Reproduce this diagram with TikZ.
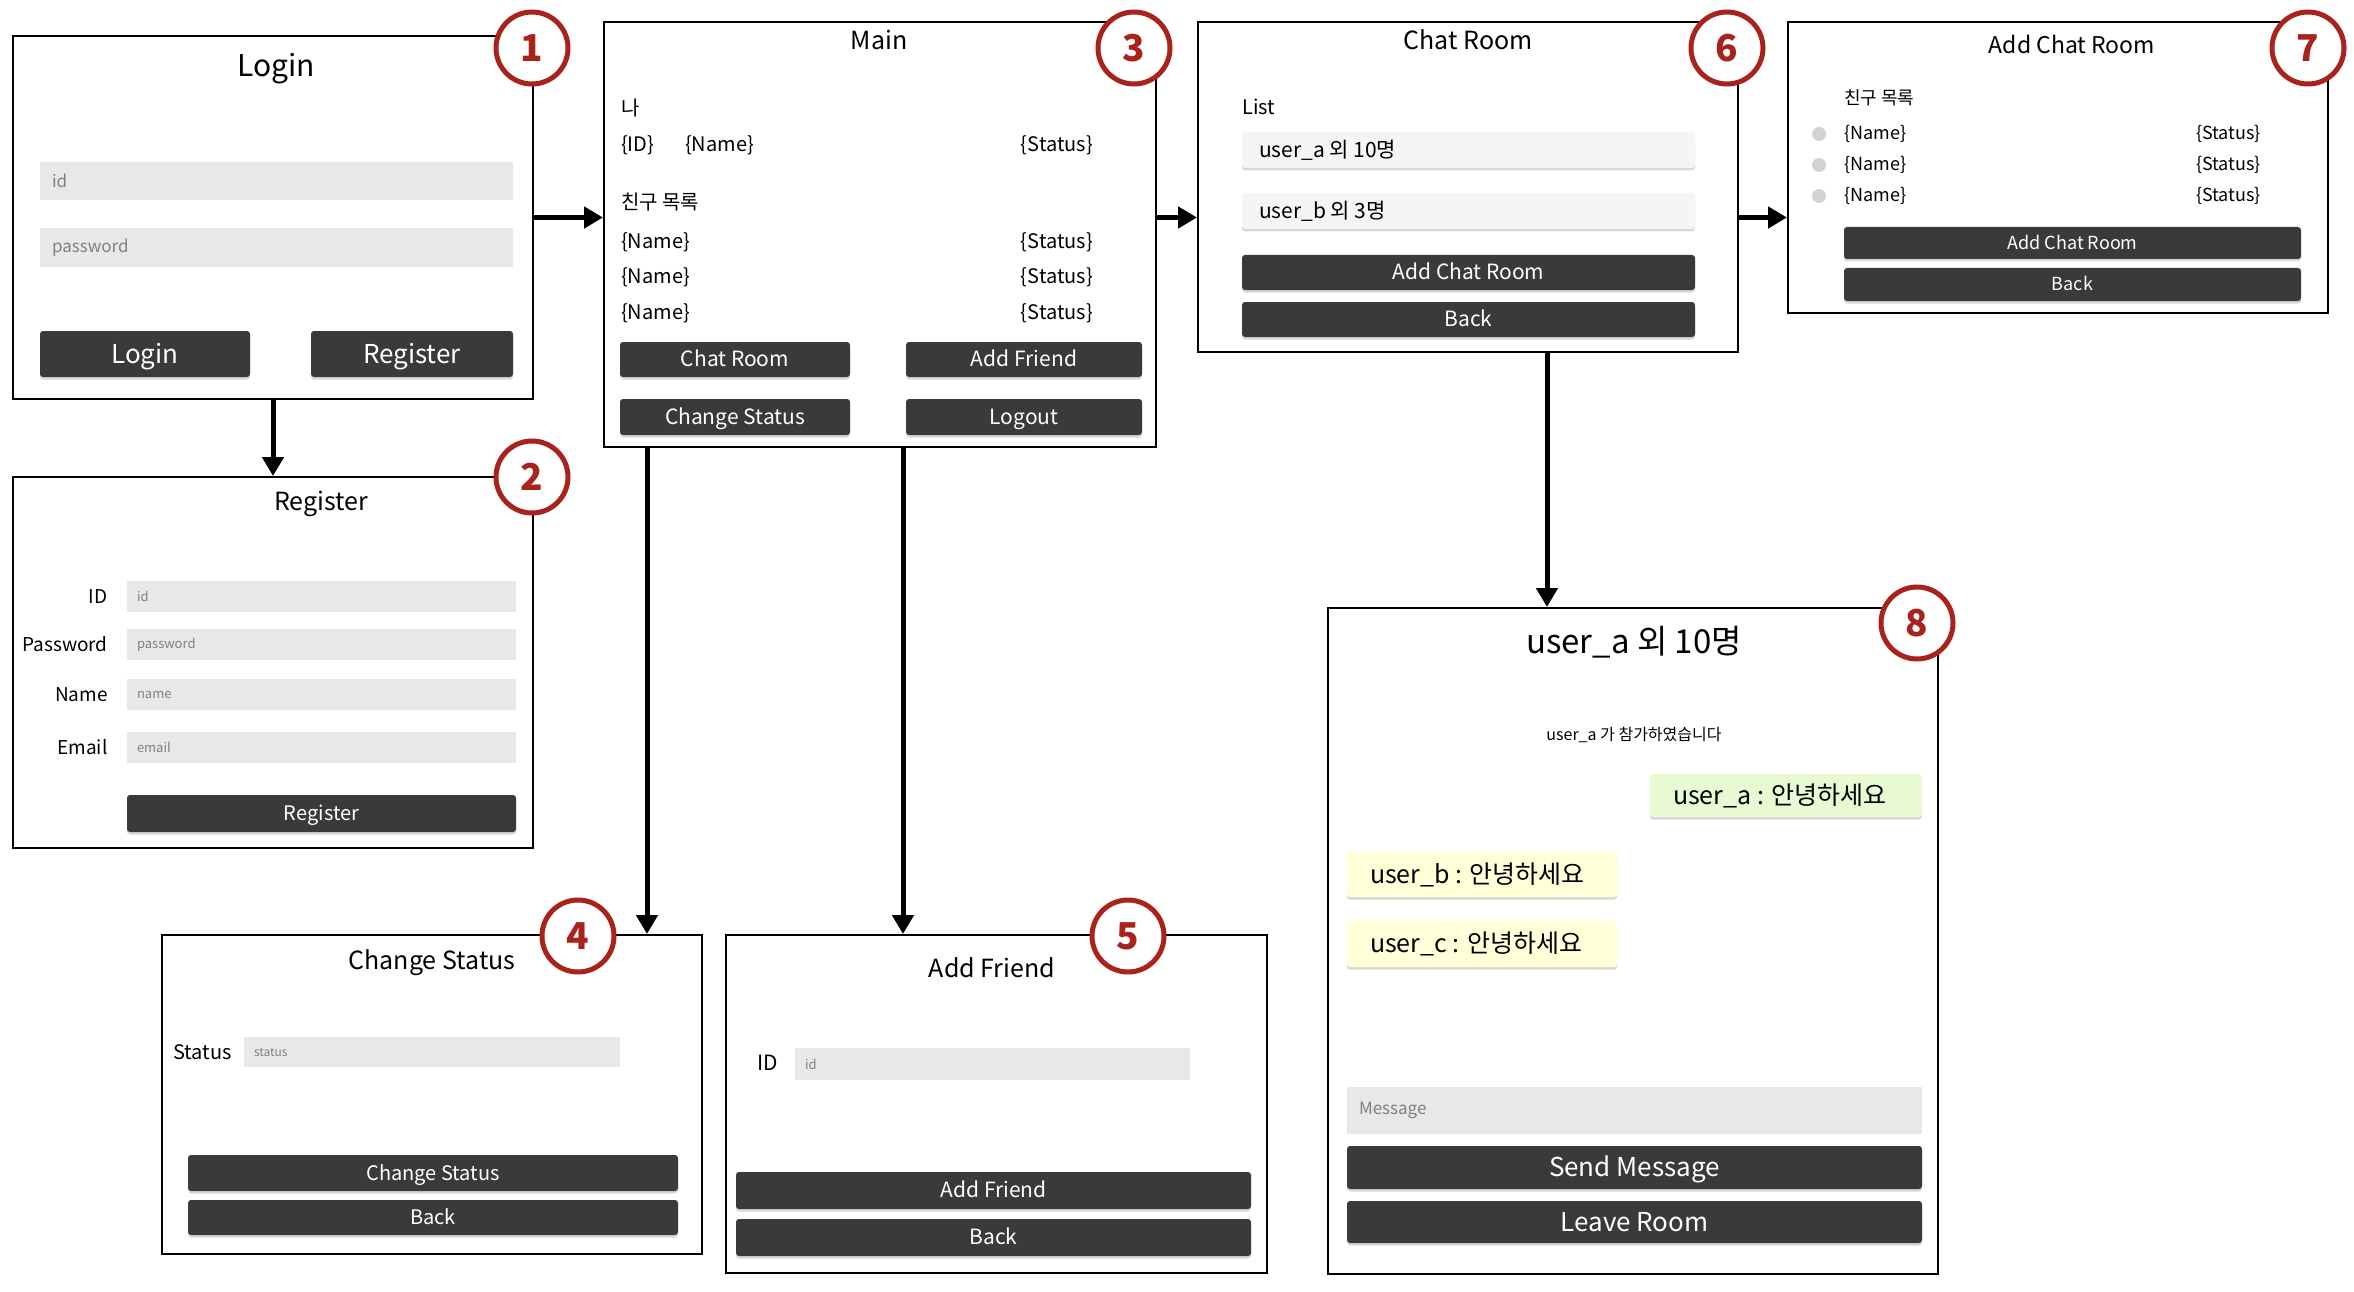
\documentclass[tikz,border=0pt]{standalone}
\usepackage{fontspec}
\setmainfont{Noto Sans CJK KR}
\usepackage{tikz}
\usetikzlibrary{arrows.meta,calc,fit,shadows}

\definecolor{btngray}{HTML}{3A3A3A}
\definecolor{fieldgray}{HTML}{E8E8E8}
\definecolor{itemgray}{HTML}{F5F5F5}
\definecolor{dotgray}{HTML}{D2D2D2}
\definecolor{hintgray}{HTML}{808080}
\definecolor{badgered}{HTML}{A8231B}
\definecolor{msggreen}{HTML}{E8FAD2}
\definecolor{msgyellow}{HTML}{FFFFD8}

\newcommand{\fsz}[1]{\fontsize{#1}{#1}\selectfont}

\begin{document}
\begin{tikzpicture}[x=1pt,y=-1pt,
	screen/.style={draw=black,line width=2pt,fill=white,inner sep=0pt},
	badge/.style={circle,draw=badgered,line width=5pt,fill=white,minimum size=72pt,inner sep=0pt,text=badgered,font=\fsz{37}\bfseries},
	title/.style={anchor=base,inner sep=0pt},
	txt/.style={inner sep=0pt},
	btxt/.style={txt,text=white,font=\fsz{#1},text height={0.7*#1pt},text depth=0pt},
	field/.style={fill=fieldgray,inner sep=0pt},
	hint/.style={anchor=west,inner sep=0pt,text=hintgray},
	btn/.style={fill=btngray,rounded corners=3pt,inner sep=0pt,drop shadow={shadow xshift=0pt,shadow yshift=-2.5pt,opacity=0.3}},
	item/.style={btn,fill=itemgray},
	bubble/.style={btn},
	dot/.style={circle,fill=dotgray,minimum size=14pt,inner sep=0pt},
	flow/.style={line width=5pt,-{Triangle[length=19pt,width=21pt]}}
	]
	\useasboundingbox (0,0) rectangle (2354,1292);
	% screens
	\node[screen,fit={(13,36) (533,399)}] (login) {};
	\node[screen,fit={(13,477) (533,848)}] (register) {};
	\node[screen,fit={(604,22) (1156,447)}] (main) {};
	\node[screen,fit={(162,935) (702,1254)}] (chstatus) {};
	\node[screen,fit={(726,935) (1267,1273)}] (addfriend) {};
	\node[screen,fit={(1198,22) (1738,352)}] (chatroom) {};
	\node[screen,fit={(1788,22) (2328,313)}] (addchat) {};
	\node[screen,fit={(1328,608) (1938,1274)}] (room) {};
	% login
	\node[title,font=\fsz{30}] (logint) at (276,77) {Login};
	\node[field,fit={(40,162) (513,200)}] (lgid) {};
	\node[hint,font=\fsz{17}] (lgidh) at ($(lgid.west)+(12,0)$) {id};
	\node[field,fit={(40,228) (513,267)}] (lgpw) {};
	\node[hint,font=\fsz{17}] (lgpwh) at ($(lgpw.west)+(12,0)$) {password};
	\node[btn,fit={(40,331) (250,377)}] (lgbtn) {};
	\node[btxt=26] (lgbtnt) at (lgbtn) {Login};
	\node[btn,fit={(311,331) (513,377)}] (lgreg) {};
	\node[btxt=26] (lgregt) at (lgreg) {Register};
	% register
	\node[title,font=\fsz{25}] (regt) at (321,510) {Register};
	\foreach \lab/\hin/\ya/\yb [count=\i] in {ID/id/581/612,Password/password/629/660,Name/name/679/710,Email/email/732/763}{
		\node[field,fit={(127,\ya) (516,\yb)}] (rf\i) {};
		\node[hint,font=\fsz{13}] (rh\i) at ($(rf\i.west)+(10,0)$) {\hin};
		\node[txt,anchor=east,font=\fsz{19}] (rl\i) at ($(rf\i.west)+(-19,0)$) {\lab};
	}
	\node[btn,fit={(127,795) (516,832)}] (rgbtn) {};
	\node[btxt=20] (rgbtnt) at (rgbtn) {Register};
	% main
	\node[title,font=\fsz{25}] (maint) at (879,50) {Main};
	\node[txt,anchor=west,font=\fsz{20}] (me) at (621,108) {나};
	\node[txt,anchor=west,font=\fsz{20}] (myid) at (621,145) {\{ID\}};
	\node[txt,anchor=west,font=\fsz{20}] (myname) at (685,145) {\{Name\}};
	\node[txt,anchor=east,font=\fsz{20}] (mystat) at (1093,145) {\{Status\}};
	\node[txt,anchor=west,font=\fsz{20}] (flist) at (621,202) {친구 목록};
	\foreach \y [count=\i] in {242,277,313}{
		\node[txt,anchor=west,font=\fsz{20}] (fn\i) at (621,\y) {\{Name\}};
		\node[txt,anchor=east,font=\fsz{20}] (fs\i) at (1093,\y) {\{Status\}};
	}
	\foreach \lab/\xa/\ya/\xb/\yb [count=\i] in {Chat Room/620/342/850/377,Add Friend/906/342/1142/377,Change Status/620/399/850/435,Logout/906/399/1142/435}{
		\node[btn,fit={(\xa,\ya) (\xb,\yb)}] (mb\i) {};
		\node[btxt=21] (mbt\i) at (mb\i) {\lab};
	}
	% change status
	\node[title,font=\fsz{25}] (cst) at (432,969) {Change Status};
	\node[field,fit={(244,1037) (620,1067)}] (csf) {};
	\node[hint,font=\fsz{12}] (csh) at ($(csf.west)+(10,0)$) {status};
	\node[txt,anchor=west,font=\fsz{20}] (csl) at (173,1052) {Status};
	\node[btn,fit={(188,1155) (678,1191)}] (csbtn) {};
	\node[btxt=20] (csbtnt) at (csbtn) {Change Status};
	\node[btn,fit={(188,1200) (678,1235)}] (csback) {};
	\node[btxt=20] (csbackt) at (csback) {Back};
	% add friend
	\node[title,font=\fsz{25}] (aft) at (992,977) {Add Friend};
	\node[field,fit={(795,1048) (1190,1080)}] (aff) {};
	\node[hint,font=\fsz{13}] (afh) at ($(aff.west)+(10,0)$) {id};
	\node[txt,anchor=west,font=\fsz{21}] (afl) at (757,1063) {ID};
	\node[btn,fit={(736,1172) (1251,1209)}] (afbtn) {};
	\node[btxt=21] (afbtnt) at (afbtn) {Add Friend};
	\node[btn,fit={(736,1219) (1251,1256)}] (afback) {};
	\node[btxt=21] (afbackt) at (afback) {Back};
	% chat room
	\node[title,font=\fsz{25}] (crt) at (1468,50) {Chat Room};
	\node[txt,anchor=west,font=\fsz{20}] (crl) at (1242,107) {List};
	\foreach \rname/\ya/\yb [count=\i] in {user\_a 외 10명/132/168,user\_b 외 3명/193/229}{
		\node[item,fit={(1242,\ya) (1695,\yb)}] (ci\i) {};
		\node[txt,anchor=west,font=\fsz{21}] (cit\i) at ($(ci\i.west)+(17,0)$) {\rname};
	}
	\node[btn,fit={(1242,255) (1695,290)}] (cradd) {};
	\node[btxt=21] (craddt) at (cradd) {Add Chat Room};
	\node[btn,fit={(1242,302) (1695,337)}] (crback) {};
	\node[btxt=21] (crbackt) at (crback) {Back};
	% add chat room
	\node[title,font=\fsz{23}] (act) at (2072,54) {Add Chat Room};
	\node[txt,anchor=west,font=\fsz{18}] (acl) at (1844,98) {친구 목록};
	\foreach \y [count=\i] in {134,165,196}{
		\node[dot] (ad\i) at (1819,\y) {};
		\node[txt,anchor=west,font=\fsz{18}] (an\i) at (1844,\y) {\{Name\}};
		\node[txt,anchor=east,font=\fsz{18}] (as\i) at (2261,\y) {\{Status\}};
	}
	\node[btn,fit={(1844,227) (2301,259)}] (acadd) {};
	\node[btxt=18] (acaddt) at (acadd) {Add Chat Room};
	\node[btn,fit={(1844,268) (2301,301)}] (acback) {};
	\node[btxt=18] (acbackt) at (acback) {Back};
	% room
	\node[title,font=\fsz{33}] (rmt) at (1634,653) {user\_a 외 10명};
	\node[txt,font=\fsz{16}] (rmn) at (1634,735) {user\_a 가 참가하였습니다};
	\node[bubble,fill=msggreen,fit={(1650,774) (1922,817)}] (ba) {};
	\node[txt,anchor=west,font=\fsz{25}] (bat) at ($(ba.west)+(23,0)$) {user\_a : 안녕하세요};
	\node[bubble,fill=msgyellow,fit={(1347,852) (1617,897)}] (bb) {};
	\node[txt,anchor=west,font=\fsz{25}] (bbt) at ($(bb.west)+(23,0)$) {user\_b : 안녕하세요};
	\node[bubble,fill=msgyellow,fit={(1347,921) (1617,967)}] (bc) {};
	\node[txt,anchor=west,font=\fsz{25}] (bct) at ($(bc.west)+(23,0)$) {user\_c : 안녕하세요};
	\node[field,fit={(1347,1087) (1922,1134)}] (msg) {};
	\node[hint,font=\fsz{17}] (msgh) at ($(msg.west)+(12,0)$) {Message};
	\node[btn,fit={(1347,1146) (1922,1189)}] (send) {};
	\node[btxt=26] (sendt) at (send) {Send Message};
	\node[btn,fit={(1347,1201) (1922,1243)}] (leave) {};
	\node[btxt=26] (leavet) at (leave) {Leave Room};
	% numbers
	\foreach \n/\x/\y in {1/532/48,2/532/477,3/1134/48,4/578/936,5/1128/936,6/1727/48,7/2308/48,8/1917/623}
		\node[badge] (b\n) at (\x,\y) {\n};
	% flow
	\coordinate (mcs) at (647,0);
	\coordinate (maf) at (903,0);
	\coordinate (crm) at (1547,0);
	\draw[flow] (login.east) -- (login.east -| main.west);
	\draw[flow] (main.east |- login.east) -- (chatroom.west |- login.east);
	\draw[flow] (chatroom.east |- login.east) -- (addchat.west |- login.east);
	\draw[flow] (login.south) -- (register.north);
	\draw[flow] (main.south -| mcs) -- (chstatus.north -| mcs);
	\draw[flow] (main.south -| maf) -- (addfriend.north -| maf);
	\draw[flow] (chatroom.south -| crm) -- (room.north -| crm);
\end{tikzpicture}
\end{document}
